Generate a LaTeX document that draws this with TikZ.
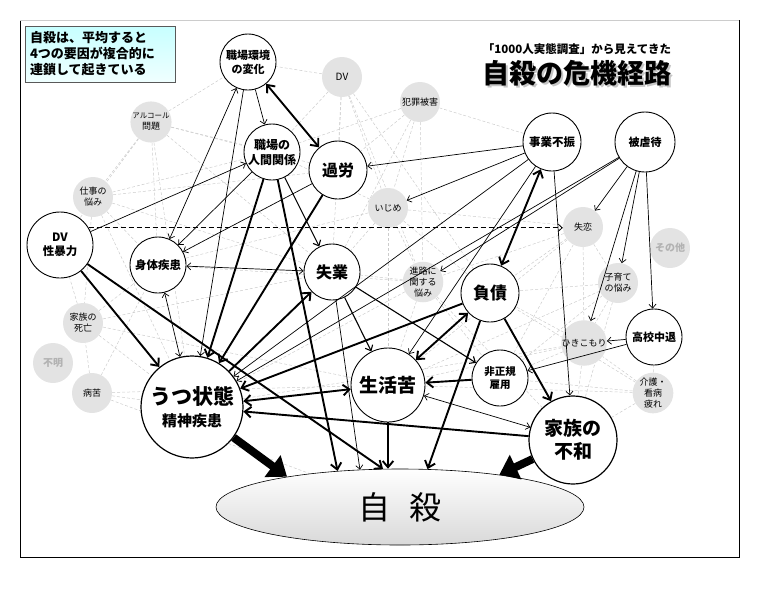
\documentclass[tikz,border=0pt]{standalone}
\usepackage{fontspec}
\setmainfont{Noto Sans CJK JP}
\usepackage{tikz}
\usetikzlibrary{arrows.meta,shapes.geometric,backgrounds}
\newcommand{\fsz}[2]{\fontsize{#1}{#2}\selectfont}
\newcommand{\shadowtext}[1]{\makebox[0pt][l]{\kern1.5pt\raisebox{-1.5pt}{\color{gray!45}#1}}#1}
\tikzstyle{factor}=[circle, draw, line width=0.9pt, fill=white, inner sep=0pt, align=center]
\tikzstyle{minor}=[circle, fill=gray!22, inner sep=0pt, minimum size=40pt, align=center, font=\fsz{9}{11}]
\tikzstyle{faded}=[minor, text=gray!60, font=\bfseries\fsz{10}{12}]
\tikzstyle{web}=[dash pattern=on 3pt off 2pt, gray!40, line width=0.5pt]
\tikzstyle{linkthin}=[line width=0.7pt]
\tikzstyle{linkmid}=[line width=1.1pt]
\tikzstyle{linkthick}=[line width=1.9pt]
\tikzstyle{linkfat}=[line width=8pt, -{Triangle[length=18pt,width=26pt]}]
\tikzstyle{linkdash}=[line width=0.8pt, dash pattern=on 5pt off 3pt]

\begin{document}
\begin{tikzpicture}[x=1pt, y=-1pt, >={Straight Barb[length=2.5pt 2,width=5pt 3]}]
	\useasboundingbox (0,0) rectangle (757,592);
	\draw[line width=0.8pt] (20,20) rectangle (739,557);
	\draw[gray!40, line width=1pt] (20,20) -- (739,20);
	\node[draw=gray!70!black, line width=0.8pt, top color=cyan!22, bottom color=cyan!6, minimum width=150pt, minimum height=56pt, inner sep=0pt, text width=140pt, align=left, font=\bfseries\fsz{13}{16}] (summary) at (100,54) {自殺は、平均すると\\4つの要因が複合的に\\連鎖して起きている};
	\node[font=\bfseries\fsz{11.5}{13}] (subtitle) at (577,49) {「1000人実態調査」から見えてきた};
	\node[font=\bfseries\fsz{27}{30}] (title) at (577,74) {\shadowtext{自殺の危機経路}};

	\node[factor, minimum size=56pt, font=\bfseries\fsz{11}{14}] (henka) at (248,62) {職場環境\\の変化};
	\node[factor, minimum size=56pt, font=\bfseries\fsz{12}{15}] (ningen) at (272,152) {職場の\\人間関係};
	\node[factor, minimum size=58pt, font=\bfseries\fsz{16}{18}] (karou) at (338,170) {過労};
	\node[factor, minimum size=58pt, font=\bfseries\fsz{11.5}{14}] (jigyo) at (552,142) {事業不振};
	\node[factor, minimum size=60pt, font=\bfseries\fsz{11}{14}] (hiyakutai) at (645,142) {被虐待};
	\node[factor, minimum size=66pt, font=\bfseries\fsz{11.5}{14}] (dvsei) at (60,245) {DV\\性暴力};
	\node[factor, minimum size=56pt, font=\bfseries\fsz{11.5}{14}] (shintai) at (158,265) {身体疾患};
	\node[factor, minimum size=56pt, font=\bfseries\fsz{16}{18}] (shitsugyo) at (332,272) {失業};
	\node[factor, minimum size=58pt, font=\bfseries\fsz{17}{19}] (fusai) at (490,293) {負債};
	\node[factor, minimum size=56pt, font=\bfseries\fsz{11}{14}] (kokochutai) at (654,337) {高校中退};
	\node[factor, minimum size=56pt, font=\bfseries\fsz{10.5}{13}] (hiseiki) at (500,378) {非正規\\雇用};
	\node[factor, minimum size=74pt, font=\bfseries\fsz{19}{21}] (seikatsu) at (388,385) {生活苦};
	\node[factor, minimum size=88pt, line width=1.2pt, font=\bfseries\fsz{19}{23}] (kazoku) at (573,440) {家族の\\不和};
	\node[factor, minimum size=102pt, line width=1.2pt, font=\bfseries\fsz{21}{22}] (utsu) at (192,407) {うつ状態\\{\fsz{15}{17}精神疾患}};
	\node[ellipse, draw, line width=0.6pt, top color=white, bottom color=gray!30, minimum width=368pt, minimum height=76pt, font=\fsz{32}{34}] (jisatsu) at (400,507) {自\hspace{0.6em}殺};

	\node[minor, font=\fsz{10}{12}] (dvg) at (342,77) {DV};
	\node[minor] (hanzai) at (420,102) {犯罪被害};
	\node[minor] (alcohol) at (151,122) {{\fsz{7.5}{9}アルコール}\\問題};
	\node[minor] (ijime) at (388,208) {いじめ};
	\node[minor] (shitsuren) at (583,227) {失恋};
	\node[faded] (sonota) at (670,248) {その他};
	\node[minor] (shigoto) at (93,197) {仕事の\\悩み};
	\node[minor] (shinro) at (423,282) {進路に\\関する\\悩み};
	\node[minor] (kosodate) at (618,283) {子育て\\の悩み};
	\node[minor] (hikikomori) at (584,343) {ひきこもり};
	\node[minor] (kaigo) at (653,393) {介護・\\看病\\疲れ};
	\node[minor] (kazokushi) at (83,323) {家族の\\死亡};
	\node[faded] (fumei) at (53,363) {不明};
	\node[minor] (byoku) at (92,393) {病苦};

	\begin{scope}[on background layer]
		\foreach \a/\b in {alcohol/henka, alcohol/ningen, alcohol/karou, alcohol/shintai, alcohol/shitsugyo, alcohol/shigoto, alcohol/utsu, alcohol/dvsei,
			shigoto/ningen, shigoto/shintai, shigoto/shitsugyo, shigoto/karou, shigoto/utsu, shigoto/kazokushi,
			dvg/ningen, dvg/karou, dvg/shitsugyo, dvg/ijime, dvg/shinro, dvg/fusai, dvg/henka,
			hanzai/karou, hanzai/ijime, hanzai/shinro, hanzai/jigyo, hanzai/shitsugyo, hanzai/ningen,
			ijime/shintai, ijime/shitsugyo, ijime/shinro, ijime/fusai, ijime/seikatsu, ijime/ningen, ijime/shitsuren,
			shitsuren/shinro, shitsuren/fusai, shitsuren/hiseiki, shitsuren/hikikomori, shitsuren/seikatsu, shitsuren/kosodate,
			shinro/seikatsu, shinro/hiseiki, shinro/shitsugyo, shinro/utsu, shinro/shintai, shinro/kazoku,
			kosodate/fusai, kosodate/hiseiki, kosodate/hikikomori, kosodate/kazoku, kosodate/seikatsu,
			hikikomori/hiseiki, hikikomori/seikatsu, hikikomori/kazoku, hikikomori/fusai, hikikomori/utsu,
			kaigo/kazoku, kaigo/hiseiki, kaigo/seikatsu, kaigo/hikikomori, kaigo/kokochutai, kaigo/fusai,
			kazokushi/utsu, kazokushi/shintai, kazokushi/seikatsu, kazokushi/shitsugyo, kazokushi/dvsei,
			byoku/utsu, byoku/shintai, byoku/seikatsu, byoku/kazokushi, byoku/jisatsu}
			\draw[web] (\a) -- (\b);
	\end{scope}

	\foreach \a/\b in {henka/ningen, henka/utsu, ningen/shintai, karou/shintai, dvsei/ningen, jigyo/karou, jigyo/ijime, jigyo/utsu, jigyo/seikatsu, jigyo/kazoku,
		hiyakutai/shitsuren, hiyakutai/kosodate, hiyakutai/hikikomori, hiyakutai/kokochutai, hiyakutai/shinro, hiyakutai/utsu, kokochutai/hikikomori, kokochutai/hiseiki}
		\draw[linkthin,->] (\a) -- (\b);
	\foreach \a/\b in {henka/shintai, shintai/shitsugyo, shintai/utsu, seikatsu/kazoku}
		\draw[linkthin,<->] (\a) -- (\b);
	\draw[linkthin,->] (shitsugyo) -- (jisatsu.137);
	\foreach \a/\b in {ningen/shitsugyo, shitsugyo/seikatsu, shitsugyo/hiseiki}
		\draw[linkmid,->] (\a) -- (\b);
	\foreach \a/\b in {ningen/utsu, karou/utsu, dvsei/utsu, utsu/shitsugyo, fusai/kazoku, fusai/utsu, hiseiki/seikatsu, kazoku/utsu}
		\draw[linkthick,->] (\a) -- (\b);
	\foreach \a/\b in {henka/karou, jigyo/fusai, fusai/seikatsu, seikatsu/utsu}
		\draw[linkthick,<->] (\a) -- (\b);
	\draw[linkthick,->] (ningen) -- (jisatsu.150);
	\draw[linkthick,->] (dvsei) -- (jisatsu.114);
	\draw[linkthick,->] (fusai) -- (jisatsu.54);
	\draw[linkthick,->] (seikatsu.south) -- (seikatsu.south |- jisatsu.north);
	\draw[linkdash,->] (dvsei.31) -- (dvsei.31 -| shitsuren.west);
	\draw[linkfat] (utsu) -- (jisatsu.165);
	\draw[linkfat] (kazoku) -- (jisatsu.18);
\end{tikzpicture}
\end{document}
